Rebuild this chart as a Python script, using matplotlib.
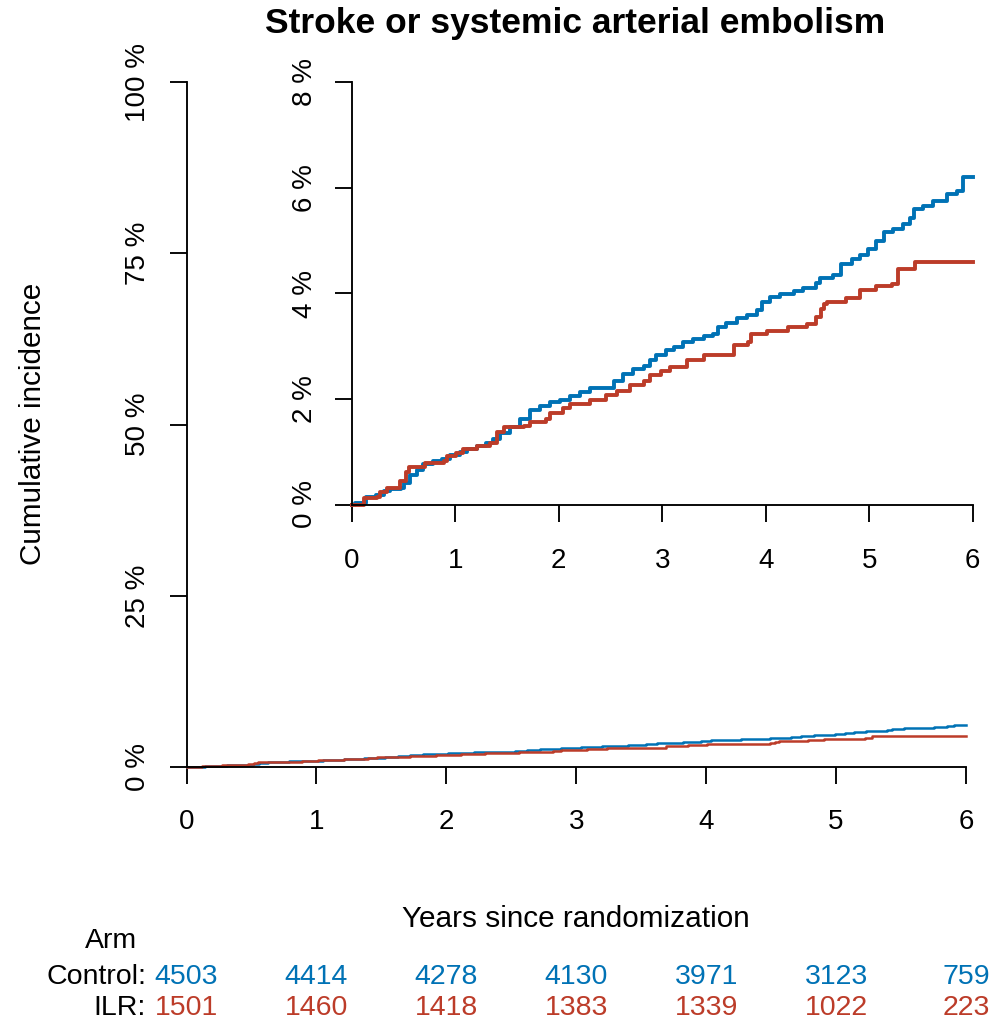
import matplotlib
matplotlib.use("Agg")
import matplotlib.pyplot as plt

plt.rcParams["font.family"] = ["Liberation Sans", "DejaVu Sans"]

# numbers at risk
years = [0, 1, 2, 3, 4, 5, 6]
control_at_risk = [4503, 4414, 4278, 4130, 3971, 3123, 759]
ilr_at_risk = [1501, 1460, 1418, 1383, 1339, 1022, 223]

# cumulative incidence (%)
control_t = [0.00, 0.03, 0.14, 0.23, 0.31, 0.37, 0.48, 0.51, 0.56, 0.63, 0.69,
             0.79, 0.87, 0.95, 1.05, 1.11, 1.21, 1.30, 1.37, 1.43, 1.53, 1.63,
             1.72, 1.82, 1.92, 2.01, 2.11, 2.21, 2.30, 2.53, 2.62, 2.72, 2.82,
             2.88, 2.94, 3.04, 3.11, 3.20, 3.30, 3.40, 3.49, 3.54, 3.62, 3.72,
             3.82, 3.92, 3.96, 4.04, 4.14, 4.27, 4.36, 4.49, 4.52, 4.65, 4.73,
             4.83, 4.91, 4.99, 5.07, 5.14, 5.23, 5.33, 5.39, 5.43, 5.52, 5.62,
             5.75, 5.85, 5.91, 6.00]
control_pct = [0.00, 0.03, 0.14, 0.18, 0.26, 0.29, 0.31, 0.41, 0.56, 0.66, 0.77,
               0.82, 0.86, 0.93, 1.00, 1.05, 1.11, 1.17, 1.25, 1.36, 1.47, 1.62,
               1.79, 1.86, 1.94, 1.98, 2.06, 2.13, 2.20, 2.35, 2.48, 2.56, 2.62,
               2.73, 2.84, 2.93, 2.98, 3.08, 3.14, 3.20, 3.24, 3.36, 3.45, 3.54,
               3.60, 3.69, 3.83, 3.93, 3.99, 4.05, 4.11, 4.19, 4.29, 4.36, 4.56,
               4.65, 4.73, 4.84, 5.00, 5.16, 5.22, 5.31, 5.44, 5.60, 5.66, 5.76,
               5.88, 5.94, 6.20, 6.20]

ilr_t = [0.00, 0.12, 0.24, 0.27, 0.34, 0.47, 0.52, 0.55, 0.71, 0.89, 0.92, 1.01,
         1.08, 1.21, 1.34, 1.40, 1.47, 1.66, 1.72, 1.88, 1.92, 2.04, 2.11, 2.30,
         2.46, 2.56, 2.69, 2.82, 2.88, 2.99, 3.08, 3.24, 3.40, 3.69, 3.83, 3.86,
         4.01, 4.22, 4.40, 4.49, 4.53, 4.56, 4.59, 4.78, 4.91, 5.07, 5.22, 5.28,
         5.44, 6.00]
ilr_pct = [0.00, 0.12, 0.15, 0.24, 0.32, 0.45, 0.62, 0.72, 0.79, 0.83, 0.92, 0.97,
           1.06, 1.11, 1.17, 1.38, 1.46, 1.48, 1.57, 1.63, 1.74, 1.82, 1.90, 1.99,
           2.08, 2.16, 2.26, 2.35, 2.45, 2.54, 2.61, 2.73, 2.83, 3.02, 3.08, 3.24,
           3.29, 3.36, 3.43, 3.55, 3.70, 3.80, 3.83, 3.92, 4.07, 4.15, 4.18, 4.46,
           4.59, 4.59]

main_yticks = [0, 25, 50, 75, 100]
main_ylabels = ["0 %", "25 %", "50 %", "75 %", "100 %"]
inset_yticks = [0, 2, 4, 6, 8]
inset_ylabels = ["0 %", "2 %", "4 %", "6 %", "8 %"]

BLUE = "#0072B5"
RED = "#BC3C29"
W, H = 1005, 1023


def box(left, top, right, bottom):
    # pixel box -> figure fraction
    return [left / W, 1 - bottom / H, (right - left) / W, (bottom - top) / H]


def style(ax, yticks, ylabels, xpad, ypad):
    ax.spines[["top", "right"]].set_visible(False)
    ax.spines[["left", "bottom"]].set_linewidth(1.35)
    ax.set_xlim(0, 6)
    ax.set_xticks(years)
    ax.set_yticks(yticks, ylabels)
    ax.set_ylim(yticks[0], yticks[-1])
    ax.tick_params(direction="out", length=12.5, width=1.35, labelsize=20)
    ax.tick_params(axis="x", pad=xpad)
    ax.tick_params(axis="y", pad=ypad, labelrotation=90)
    for lab in ax.get_yticklabels():
        lab.set_verticalalignment("center")


fig = plt.figure(figsize=(W / 100, H / 100), dpi=100)

ax = fig.add_axes(box(186.5, 82.3, 966, 767))
style(ax, main_yticks, main_ylabels, 18, 13)
ax.plot(control_t, control_pct, drawstyle="steps-post", color=BLUE, lw=1.8, clip_on=False)
ax.plot(ilr_t, ilr_pct, drawstyle="steps-post", color=RED, lw=1.8, clip_on=False)

ins = fig.add_axes(box(351.7, 82.5, 972.7, 504.5))
ins.patch.set_visible(False)
style(ins, inset_yticks, inset_ylabels, 18.5, 12)
ins.plot(control_t, control_pct, drawstyle="steps-post", color=BLUE, lw=2.8, clip_on=False)
ins.plot(ilr_t, ilr_pct, drawstyle="steps-post", color=RED, lw=2.8, clip_on=False)

fig.text(575 / W, 1 - 24 / H, "Stroke or systemic arterial embolism",
         fontsize=25.5, fontweight="bold", ha="center", va="center")
fig.text(33 / W, 1 - 424 / H, "Cumulative incidence", fontsize=21.4,
         rotation=90, ha="center", va="center")
fig.text(576 / W, 1 - 927 / H, "Years since randomization", fontsize=21.4,
         ha="center", va="baseline")

# risk table
fs = 20.5
fig.text(111 / W, 1 - 948 / H, "Arm", fontsize=fs, ha="center", va="baseline")
fig.text(146 / W, 1 - 984 / H, "Control:", fontsize=fs, ha="right", va="baseline")
fig.text(146 / W, 1 - 1015 / H, "ILR:", fontsize=fs, ha="right", va="baseline")
for yr, c, i in zip(years, control_at_risk, ilr_at_risk):
    xf = ax.transData.transform((yr, 0))[0] / W
    fig.text(xf, 1 - 984 / H, str(c), fontsize=fs, color=BLUE, ha="center", va="baseline")
    fig.text(xf, 1 - 1015 / H, str(i), fontsize=fs, color=RED, ha="center", va="baseline")

fig.savefig("out.png", dpi=100)
